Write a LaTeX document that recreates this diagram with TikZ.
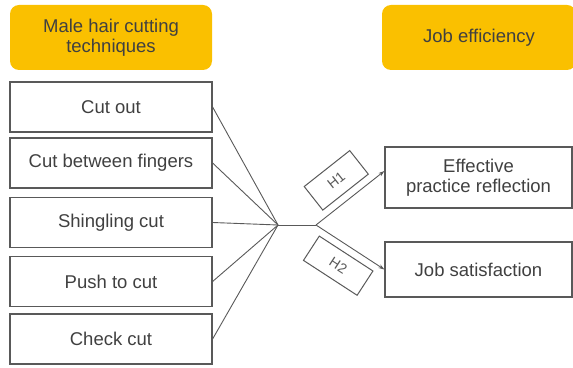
\documentclass[tikz,border=0pt]{standalone}
\usepackage{fontspec}
\setmainfont{Liberation Sans}
\usetikzlibrary{arrows.meta}

\definecolor{headyellow}{RGB}{250,192,0}
\definecolor{textgray}{RGB}{64,64,64}
\definecolor{linegray}{RGB}{89,89,89}

\begin{document}
\begin{tikzpicture}[x=1pt,y=1pt]
	 \tikzstyle{header}=[rectangle,rounded corners=9pt,fill=headyellow,text=textgray,align=center,font=\fontsize{18.5}{20}\selectfont]
	 \tikzstyle{technique} = [rectangle,draw=linegray,line width=1.2pt,text=textgray,minimum width=202pt,minimum height=50pt,inner sep=0pt,font=\fontsize{18.5}{20}\selectfont]
	 \tikzstyle{outcome} = [technique,minimum width=187pt,align=center]

	 \tikzstyle{link} = [draw,-,linegray,line width=0.9pt]
	 \tikzstyle{hypo} = [-{Stealth[length=6pt,width=4pt]},linegray,line width=0.9pt]
	 \tikzstyle{hlabel} = [rectangle,draw=linegray,line width=1pt,text=linegray,sloped,midway,inner sep=0pt,font=\fontsize{14}{14}\selectfont]

	 \useasboundingbox (0,0) rectangle (573,367);

	 % headers
	 \node[header,minimum width=202pt,minimum height=65pt] (hleft) at (111,329.5) {Male hair cutting\\techniques};
	 \node[header,minimum width=194pt,minimum height=65pt] (hright) at (479,329.5) {Job efficiency};

	 % techniques
	 \node[technique] (cutout) at (111,260) {Cut out};
	 \node[technique] (fingers) at (111,204) {Cut between fingers};
	 \node[technique] (shingling) at (111,144.5) {Shingling cut};
	 \node[technique] (push) at (111,85.5) {Push to cut};
	 \node[technique] (check) at (111,28) {Check cut};

	 % efficiency
	 \node[outcome,minimum height=61pt] (effective) at (478.5,189.5) {Effective\\practice reflection};
	 \node[outcome,minimum height=55pt] (satisfaction) at (478.5,97.5) {Job satisfaction};

	 \coordinate (join) at (278,142);
	 \coordinate (fork) at (316,142);

	 \draw[link] (cutout.east) -- (join);
	 \draw[link] (fingers.east) -- (join);
	 \draw[link] (shingling.east) -- (join);
	 \draw[link] (push.east) -- (join);
	 \draw[link] (check.east) -- (join);
	 \draw[link] (join) -- (fork);

	 \draw[hypo] (fork) -- ([yshift=6.5pt]effective.west)
		node[hlabel,above=7pt,minimum width=58pt,minimum height=30pt] (h1) {H1};
	 \draw[hypo] (fork) -- (satisfaction.west)
		node[hlabel,below=7pt,minimum width=64pt,minimum height=29pt] (h2) {H2};
\end{tikzpicture}
\end{document}
